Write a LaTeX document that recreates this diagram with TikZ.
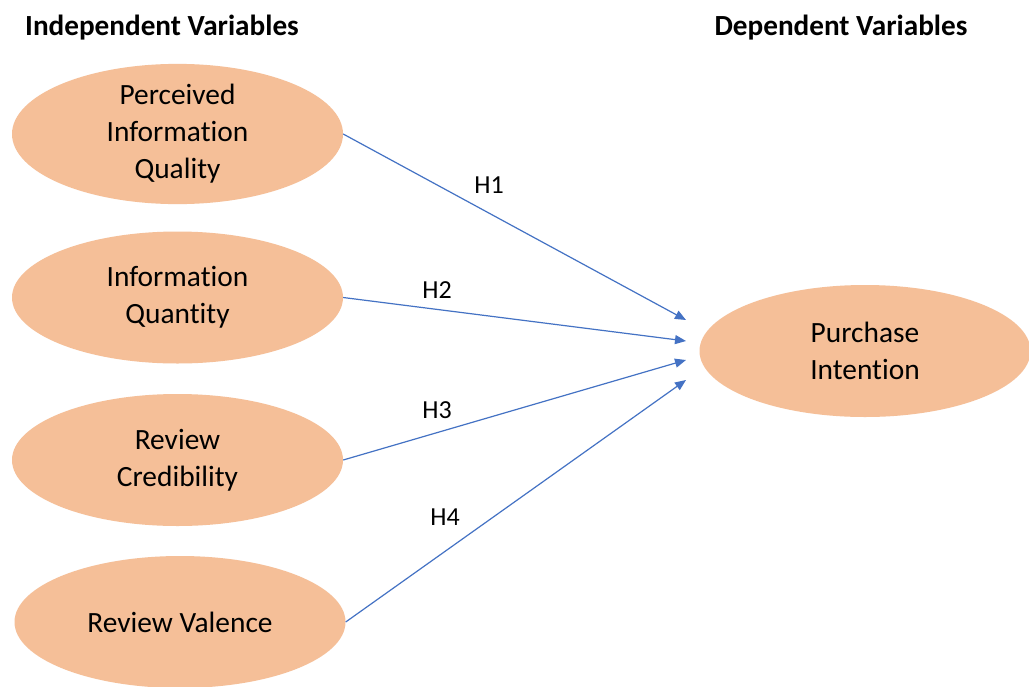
\documentclass[tikz,border=0pt]{standalone}
\usepackage{fontspec}
\setmainfont[Ligatures=NoCommon]{Carlito}
\usetikzlibrary{shapes.geometric,arrows.meta}
\definecolor{varfill}{HTML}{F5BF98}
\definecolor{linkblue}{HTML}{4472C4}
\tikzset{
  varnode/.style={ellipse, fill=varfill, draw=none, minimum width=331pt, minimum height=132pt,
    inner sep=0pt, align=center, font=\fontsize{29.4}{37}\selectfont},
  heading/.style={font=\bfseries\fontsize{29.2}{32}\selectfont},
  link/.style={draw=linkblue, line width=1.2pt, -{Triangle[length=11pt,width=9pt]}},
  hyp/.style={font=\fontsize{26}{28}\selectfont}
}
\begin{document}
\begin{tikzpicture}[x=1pt,y=-1pt]
  \useasboundingbox (0,0) rectangle (1029,686);
  \fill[white] (0,0) rectangle (1029,686);

  % column headings
  \node[heading] (hind) at (162,28) {Independent Variables};
  \node[heading] (hdep) at (841,28) {Dependent Variables};

  % independent variables
  \node[varnode] (piq) at (177.5,134) {Perceived\\Information\\Quality};
  \node[varnode] (iqn) at (177.5,297.5) {Information\\Quantity};
  \node[varnode] (rc)  at (177.5,460) {Review\\Credibility};
  \node[varnode] (rv)  at (180,622) {Review Valence};

  % dependent variable
  \node[varnode] (pi) at (865,351) {Purchase\\Intention};

  % arrow targets in front of the dependent variable
  \coordinate (t1) at (686,320);
  \coordinate (t2) at (686,341);
  \coordinate (t3) at (686,360);
  \coordinate (t4) at (686,380);

  \draw[link] (piq.east) -- (t1);
  \draw[link] (iqn.east) -- (t2);
  \draw[link] (rc.east) -- (t3);
  \draw[link] (rv.east) -- (t4);

  % hypothesis labels
  \node[hyp] (h1) at (489,185) {H1};
  \node[hyp] (h2) at (437,290) {H2};
  \node[hyp] (h3) at (437,410) {H3};
  \node[hyp] (h4) at (445,517) {H4};
\end{tikzpicture}
\end{document}
